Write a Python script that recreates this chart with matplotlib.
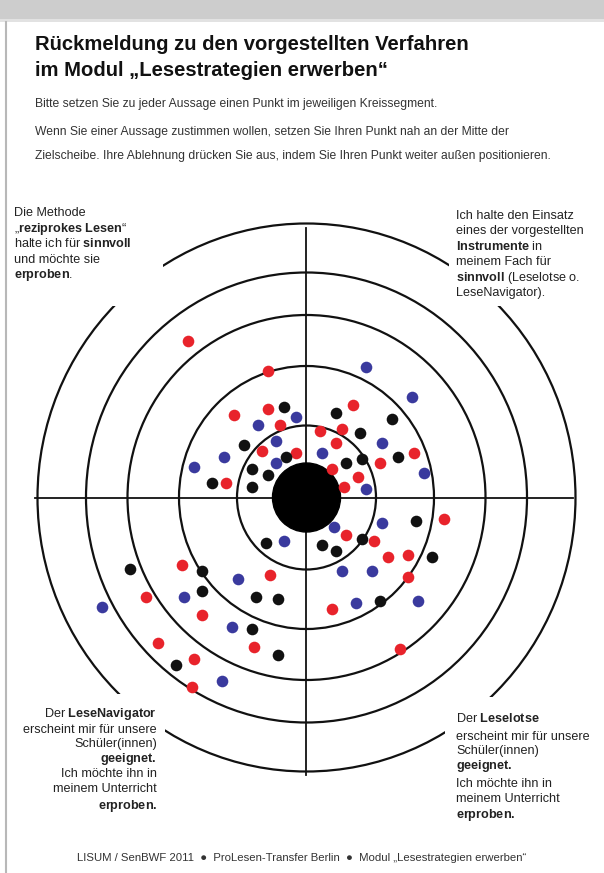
import matplotlib
matplotlib.use("Agg")
import matplotlib.pyplot as plt
from matplotlib.patches import Ellipse, Rectangle

plt.rcParams['font.family'] = ['Liberation Sans', 'DejaVu Sans']
plt.rcParams['mathtext.fontset'] = 'custom'
plt.rcParams['mathtext.rm'] = 'Liberation Sans'
plt.rcParams['mathtext.bf'] = 'Liberation Sans:bold'
plt.rcParams['mathtext.it'] = 'Liberation Sans:italic'

# ---------------- data: dot positions (offset from target centre, px, y up)
red_dx = [-118, -38, 47, -72, -38, -26, 14, 36, 30, -44, -10, 108, 74, 26, 52, -80, 38,
          138, 40, 68, 82, 102, 102, -124, -36, -160, -104, 26, -148, -52, 94, -112, -114]
red_dy = [156, 126, 92, 82, 88, 72, 66, 68, 54, 46, 44, 44, 34, 28, 20, 14, 10,
          -22, -38, -44, -60, -58, -80, -68, -78, -100, -118, -112, -146, -150, -152, -162, -190]

blue_dx = [60, 106, -10, -48, -30, 76, 16, -82, -30, -112, 118, 60,
           76, 28, -22, 36, 66, -68, -122, -204, 50, 112, -74, -84]
blue_dy = [130, 100, 80, 72, 56, 54, 44, 40, 34, 30, 24, 8,
           -26, -30, -44, -74, -74, -82, -100, -110, -106, -104, -130, -184]

black_dx = [30, 86, -22, 54, -62, -20, 92, 40, 56, -54, -38, -94, -54, 110,
            56, 16, 30, -40, 126, -176, -104, -104, -50, -28, 74, -54, -28, -130]
black_dy = [84, 78, 90, 64, 52, 40, 40, 34, 38, 28, 22, 14, 10, -24,
            -42, -48, -54, -46, -60, -72, -74, -94, -100, -102, -104, -132, -158, -168]

ring_rx = [69.5, 127.5, 179, 220.5, 269]
ring_ry = [72, 131.5, 182.5, 225, 274]

title_lines = ["Rückmeldung zu den vorgestellten Verfahren",
               "im Modul „Lesestrategien erwerben“"]
intro_lines = ["Bitte setzen Sie zu jeder Aussage einen Punkt im jeweiligen Kreissegment.",
               "Wenn Sie einer Aussage zustimmen wollen, setzen Sie Ihren Punkt nah an der Mitte der",
               "Zielscheibe. Ihre Ablehnung drücken Sie aus, indem Sie Ihren Punkt weiter außen positionieren."]
tl_lines = ["Die Methode", "„$\\mathbf{reziprokes\\ Lesen}$“", "halte ich für $\\mathbf{sinnvoll}$",
            "und möchte sie", "$\\mathbf{erproben}$."]
tr_lines = ["Ich halte den Einsatz", "eines der vorgestellten", "$\\mathbf{Instrumente}$ in",
            "meinem Fach für", "$\\mathbf{sinnvoll}$ (Leselotse o.", "LeseNavigator)."]
bl_lines = ["Der $\\mathbf{LeseNavigator}$", "erscheint mir für unsere", "Schüler(innen)",
            "$\\mathbf{geeignet.}$", "Ich möchte ihn in", "meinem Unterricht", "$\\mathbf{erproben.}$"]
br_lines = ["Der $\\mathbf{Leselotse}$", "erscheint mir für unsere", "Schüler(innen)",
            "$\\mathbf{geeignet.}$", "Ich möchte ihn in", "meinem Unterricht", "$\\mathbf{erproben.}$"]
footer = "LISUM / SenBWF 2011  \u25CF  ProLesen-Transfer Berlin  \u25CF  Modul „Lesestrategien erwerben“"

W, H = 604, 873
CX, CY = 306.5, 497.5

fig = plt.figure(figsize=(W / 100, H / 100), dpi=100)
fig.patch.set_facecolor('white')

# ---------------- target axes
R = 300
tg = fig.add_axes([(CX - R) / W, (H - CY - R) / H, 2 * R / W, 2 * R / H], zorder=1)
tg.set_xlim(-R, R)
tg.set_ylim(-R, R)
tg.axis('off')
tg.patch.set_alpha(0)

for rx, ry in zip(ring_rx, ring_ry):
    tg.add_patch(Ellipse((0, 0), 2 * rx, 2 * ry, fill=False, lw=1.6, ec='#111111'))
tg.plot([-271.5, 266.5], [0, 0], color='#111111', lw=1.3)
tg.plot([0, 0], [269.5, -277.5], color='#111111', lw=1.3)
tg.add_patch(Ellipse((0, 0), 68, 69, color='black', zorder=3))

tg.scatter(red_dx, red_dy, s=70, color='#e8232b', edgecolors='none', zorder=4)
tg.scatter(blue_dx, blue_dy, s=70, color='#3a3a9e', edgecolors='none', zorder=4)
tg.scatter(black_dx, black_dy, s=70, color='#111111', edgecolors='none', zorder=4)

# ---------------- overlay axes (pixel coordinates)
ov = fig.add_axes([0, 0, 1, 1], zorder=2)
ov.set_xlim(0, W)
ov.set_ylim(H, 0)
ov.axis('off')
ov.patch.set_alpha(0)

# page frame
ov.add_patch(Rectangle((0, 0), W, 19, color='#cdcdcd', lw=0))
ov.add_patch(Rectangle((0, 19), W, 3, color='#e2e2e2', lw=0))
ov.plot([6, 6], [22, H], color='#b8b8b8', lw=1.5)

# white label boxes
for (x0, y0, x1, y1) in [(8, 195, 163, 306), (449, 195, 604, 306),
                         (8, 694, 165, 830), (445, 697, 604, 830)]:
    ov.add_patch(Rectangle((x0, y0), x1 - x0, y1 - y0, color='white', lw=0))

for txt, y in zip(title_lines, [45, 70]):
    ov.text(35, y, txt, fontsize=14.6, fontweight='bold', va='center', ha='left', color='#111111')
for txt, y in zip(intro_lines, [104, 131, 156]):
    ov.text(35, y + 3.5, txt, fontsize=8.7, va='baseline', ha='left', color='#333333')

box_fs = 9.1
for txt, y in zip(tl_lines, [212, 228, 243, 259, 274]):
    ov.text(14, y + 4, txt, fontsize=box_fs, va='baseline', ha='left', color='#222222')
for txt, y in zip(tr_lines, [215, 230, 246, 261, 277, 292]):
    ov.text(456, y + 4, txt, fontsize=box_fs, va='baseline', ha='left', color='#222222')
for txt, y in zip(bl_lines, [713, 729, 743, 758, 773, 788, 805]):
    ov.text(157, y + 4, txt, fontsize=box_fs, va='baseline', ha='right', color='#222222')
for txt, y in zip(br_lines, [718, 736, 750, 765, 783, 798, 814]):
    ov.text(456, y + 4, txt, fontsize=box_fs, va='baseline', ha='left', color='#222222')

ov.text(302, 858, footer, fontsize=8.2, va='center', ha='center', color='#333333')

fig.savefig('out.png', dpi=100)
